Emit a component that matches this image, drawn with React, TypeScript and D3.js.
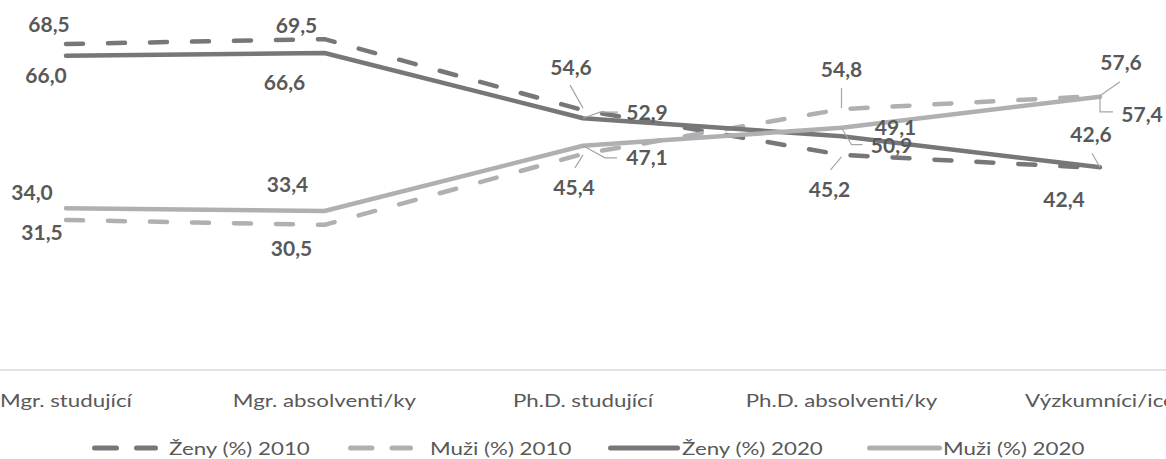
import React from "react";
import * as d3 from "d3";

const categories = ["Mgr. studující", "Mgr. absolventi/ky", "Ph.D. studující", "Ph.D. absolventi/ky", "Výzkumníci/ice"];
const zeny2010 = [68.5, 69.5, 54.6, 45.2, 42.4];
const muzi2010 = [31.5, 30.5, 45.4, 54.8, 57.6];
const zeny2020 = [66.0, 66.6, 52.9, 49.1, 42.6];
const muzi2020 = [34.0, 33.4, 47.1, 50.9, 57.4];
const seriesNames = ["Ženy (%) 2010", "Muži (%) 2010", "Ženy (%) 2020", "Muži (%) 2020"];

const W = 1166;
const H = 459;
const DARK = "#77777a";
const LIGHT = "#b0b0b2";
const TEXT = "#595959";
const DASH = "17 25";
const SX = 1.24; // horizontal stretch of axis/legend text

// label layout: [dx, dy(baseline), leader polyline relative to point]
type Lab = { dx: number; dy: number; leader?: [number, number][] };
const labZ10: Lab[] = [
  { dx: -17, dy: -12 },
  { dx: -28, dy: -6 },
  { dx: -12, dy: -35, leader: [[-13, -25], [0, -2]] },
  { dx: -12, dy: 42, leader: [[-11, 15], [0, 2]] },
  { dx: -36, dy: 39 },
];
const labZ20: Lab[] = [
  { dx: -20, dy: 27 },
  { dx: -40, dy: 37 },
  { dx: 64, dy: 2, leader: [[0, 0], [17, -6], [35, -6]] },
  { dx: 54, dy: -1 },
  { dx: -9, dy: -25, leader: [[-8, -14], [0, 0]] },
];
const labM10: Lab[] = [
  { dx: -24, dy: 20 },
  { dx: -33, dy: 31 },
  { dx: -9, dy: 41, leader: [[-8, 14], [0, 1]] },
  { dx: 0, dy: -32, leader: [[0, -21], [0, -1]] },
  { dx: 21, dy: -26, leader: [[20, -14], [0, 0]] },
];
const labM20: Lab[] = [
  { dx: -34, dy: -8 },
  { dx: -37, dy: -19 },
  { dx: 64, dy: 19, leader: [[0, 0], [22, 12], [34, 12]] },
  { dx: 50, dy: 25, leader: [[0, 0], [10, 17], [21, 17]] },
  { dx: 42, dy: 25, leader: [[0, 0], [0, 15], [13, 15]] },
];

// legend layout: icon start, icon end, text start
const legendLayout = [
  [92, 158, 169],
  [348, 413, 430],
  [608, 680, 682],
  [867, 942, 943],
];

export default function App() {
  const x = d3.scalePoint<string>().domain(categories).range([66, 1100]);
  const y = d3.scaleLinear().domain([0, 80]).range([370, -10.8]);
  const line = d3
    .line<number>()
    .x((_, i) => x(categories[i]) as number)
    .y((d) => y(d));
  const fmt = (v: number) => v.toFixed(1).replace(".", ",");

  const series = [
    { name: seriesNames[0], data: zeny2010, color: DARK, dash: true, labs: labZ10 },
    { name: seriesNames[1], data: muzi2010, color: LIGHT, dash: true, labs: labM10 },
    { name: seriesNames[2], data: zeny2020, color: DARK, dash: false, labs: labZ20 },
    { name: seriesNames[3], data: muzi2020, color: LIGHT, dash: false, labs: labM20 },
  ];

  return (
    <svg width={W} height={H} style={{ position: "absolute", left: 0, top: 0 }} fontFamily="Lato, 'Open Sans', sans-serif">
      <line x1={0} x2={W} y1={y(0)} y2={y(0)} stroke="#d9d9d9" strokeWidth={1.5} />
      {series.map((s) => (
        <path
          key={s.name}
          d={line(s.data) || ""}
          fill="none"
          stroke={s.color}
          strokeWidth={4.5}
          strokeDasharray={s.dash ? DASH : undefined}
          strokeLinecap="round"
          strokeLinejoin="round"
        />
      ))}
      {series.map((s) =>
        s.data.map((v, i) => {
          const px = x(categories[i]) as number;
          const py = y(v);
          const l = s.labs[i];
          return (
            <g key={s.name + i}>
              {l.leader && (
                <polyline
                  points={l.leader.map(([a, b]) => `${px + a},${py + b}`).join(" ")}
                  fill="none"
                  stroke="#a6a6a6"
                  strokeWidth={1.2}
                />
              )}
              <text
                transform={`translate(${px + l.dx},${py + l.dy}) scale(1.05,1)`}
                textAnchor="middle"
                fontSize={20}
                fontWeight="bold"
                fill={TEXT}
              >
                {fmt(v)}
              </text>
            </g>
          );
        })
      )}
      {categories.map((c) => (
        <text
          key={c}
          transform={`translate(${x(c) as number},407) scale(${SX},1)`}
          textAnchor="middle"
          fontSize={18}
          fill={TEXT}
        >
          {c}
        </text>
      ))}
      {series.map((s, i) => {
        const [a, b, t] = legendLayout[i];
        const m = (a + b) / 2;
        return (
          <g key={"leg" + i}>
            {s.dash ? (
              <>
                <line x1={a + 2.5} x2={m - 8.5} y1={448} y2={448} stroke={s.color} strokeWidth={5} strokeLinecap="round" />
                <line x1={m + 11.5} x2={b - 2.5} y1={448} y2={448} stroke={s.color} strokeWidth={5} strokeLinecap="round" />
              </>
            ) : (
              <line x1={a + 2.5} x2={b - 2.5} y1={448} y2={448} stroke={s.color} strokeWidth={5} strokeLinecap="round" />
            )}
            <text transform={`translate(${t},455) scale(${SX},1)`} fontSize={18} fill={TEXT}>
              {s.name}
            </text>
          </g>
        );
      })}
    </svg>
  );
}
